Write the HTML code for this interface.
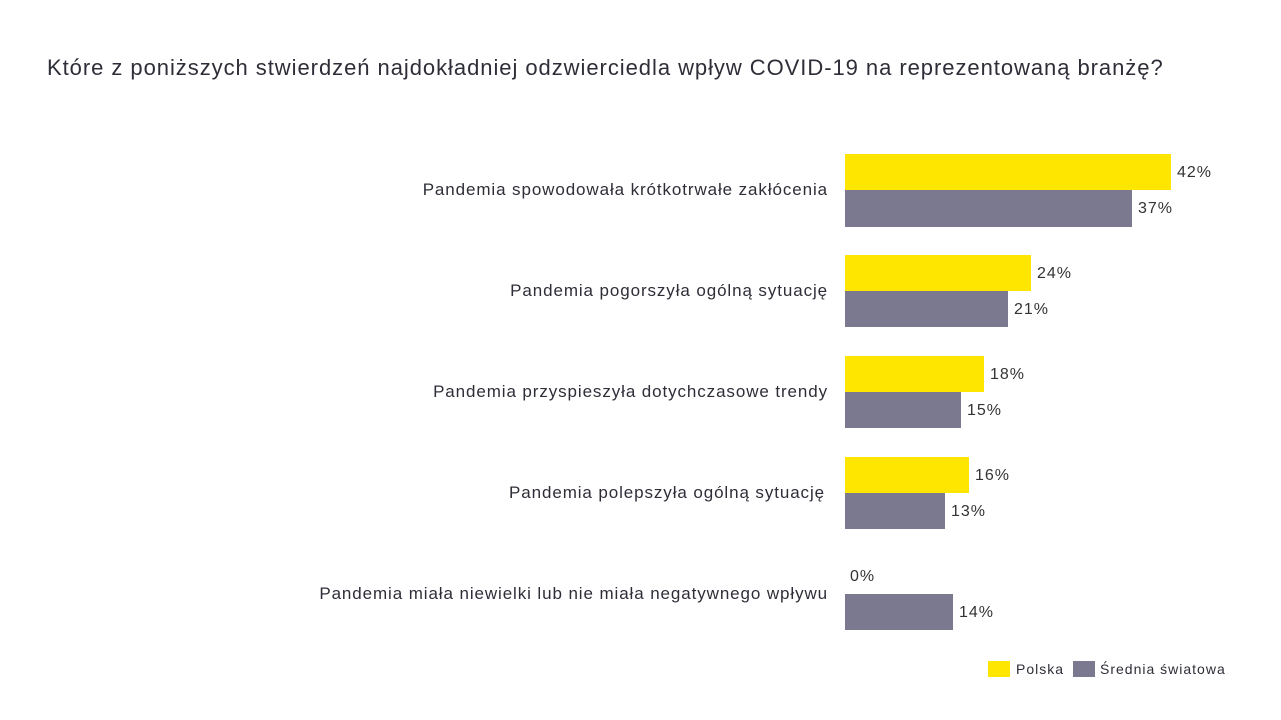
<!DOCTYPE html>
<html><head><meta charset="utf-8"><style>
body{margin:0;width:1281px;height:720px;background:#fff;position:relative;overflow:hidden;font-family:"Liberation Sans",sans-serif;color:#333}
.t{position:absolute;left:47px;top:55px;font-size:22px;letter-spacing:0.95px;color:#2e2e38;white-space:nowrap}
.l{position:absolute;right:453px;font-size:17px;letter-spacing:0.9px;color:#2e2e38;white-space:nowrap}
.b{position:absolute;left:845px}
.y{background:#FFE600}.g{background:#7A7990}
.v{position:absolute;font-size:16px;letter-spacing:1px;color:#333}
.lg{position:absolute;top:661px;font-size:14px;letter-spacing:1px;color:#2e2e38}
</style></head><body>
<div class="t">Które z poniższych stwierdzeń najdokładniej odzwierciedla wpływ COVID-19 na reprezentowaną branżę?</div>

<div class="l" style="top:180px">Pandemia spowodowała krótkotrwałe zakłócenia</div>
<div class="b y" style="top:154px;height:36px;width:326px"></div>
<div class="b g" style="top:190px;height:37px;width:287px"></div>
<div class="v" style="left:1177px;top:164px">42%</div>
<div class="v" style="left:1138px;top:200px">37%</div>

<div class="l" style="top:281px">Pandemia pogorszyła ogólną sytuację</div>
<div class="b y" style="top:255px;height:36px;width:186px"></div>
<div class="b g" style="top:291px;height:36px;width:163px"></div>
<div class="v" style="left:1037px;top:265px">24%</div>
<div class="v" style="left:1014px;top:301px">21%</div>

<div class="l" style="top:382px">Pandemia przyspieszyła dotychczasowe trendy</div>
<div class="b y" style="top:356px;height:36px;width:139px"></div>
<div class="b g" style="top:392px;height:36px;width:116px"></div>
<div class="v" style="left:990px;top:366px">18%</div>
<div class="v" style="left:967px;top:402px">15%</div>

<div class="l" style="top:483px;right:456px">Pandemia polepszyła ogólną sytuację</div>
<div class="b y" style="top:457px;height:36px;width:124px"></div>
<div class="b g" style="top:493px;height:36px;width:100px"></div>
<div class="v" style="left:975px;top:467px">16%</div>
<div class="v" style="left:951px;top:503px">13%</div>

<div class="l" style="top:584px">Pandemia miała niewielki lub nie miała negatywnego wpływu</div>
<div class="b g" style="top:594px;height:36px;width:108px"></div>
<div class="v" style="left:850px;top:568px">0%</div>
<div class="v" style="left:959px;top:604px">14%</div>

<div class="b y" style="left:988px;top:661px;width:22px;height:16px"></div>
<div class="lg" style="left:1016px">Polska</div>
<div class="b g" style="left:1073px;top:661px;width:22px;height:16px"></div>
<div class="lg" style="left:1100px">Średnia światowa</div>
</body></html>
